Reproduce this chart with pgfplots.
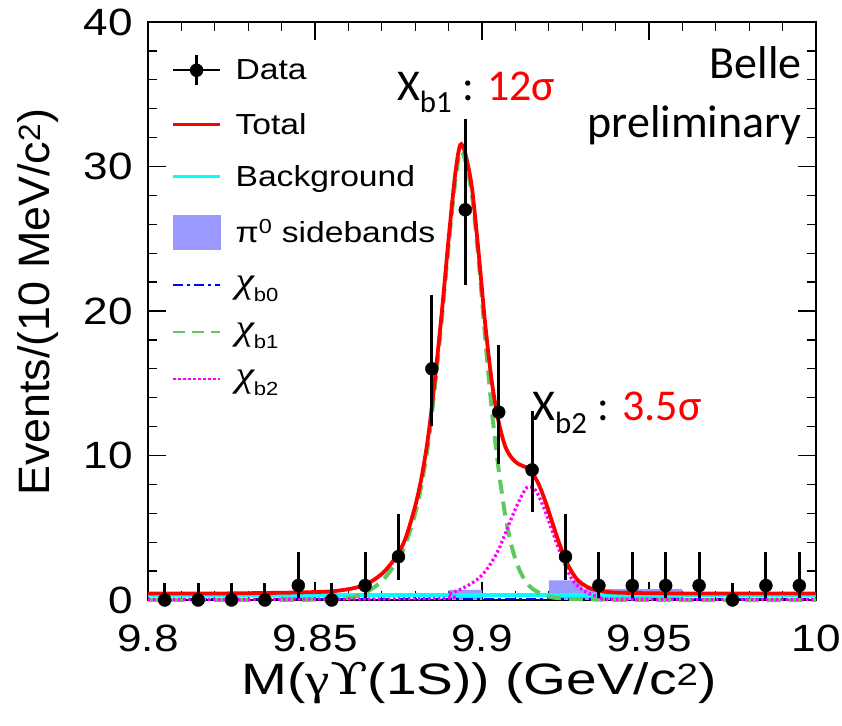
\documentclass[border=0pt]{standalone}
\usepackage{fontspec}
\setmainfont{Liberation Sans}
\newfontfamily\calibri{Carlito}
\newfontfamily\lserif{Liberation Serif}
\newfontfamily\dvserif{DejaVu Serif}
\usepackage{graphicx}
\usepackage{xcolor}
\usepackage{pgfplots}
\pgfplotsset{compat=1.18}

\definecolor{sbfill}{RGB}{153,153,255}
\definecolor{chigreen}{RGB}{95,200,95}
\definecolor{bgcyan}{RGB}{0,255,255}
\definecolor{mag}{RGB}{255,0,255}
\newcommand{\hs}[1]{\scalebox{1.16}[1]{#1}}
\newcommand{\chib}[1]{\hs{{\lserif\itshape\fontsize{36}{38}\selectfont χ}\raisebox{-9pt}{\fontsize{19}{20}\selectfont #1}}}

\begin{document}
\begin{tikzpicture}
\begin{axis}[
  scale only axis,
  width=668pt, height=578pt,
  xmin=9.8, xmax=10, ymin=0, ymax=40,
  clip=false,
  xtick={9.8,9.85,9.9,9.95,10},
  ytick={0,10,20,30,40},
  minor x tick num=4, minor y tick num=4,
  tick align=inside, tick pos=both,
  major tick length=18pt, minor tick length=9pt,
  every tick/.style={black, line width=1.3pt},
  axis line style={black, line width=1.6pt},
  tick label style={font=\fontsize{38}{40}\selectfont, inner sep=0pt},
  xticklabel={\hs{\pgfmathprintnumber[assume math mode=true]{\tick}}},
  yticklabel={\hs{\pgfmathprintnumber[assume math mode=true]{\tick}}},
  xticklabel shift=25pt, yticklabel shift=15pt,
  xlabel={\scalebox{1.25}[1]{M({\lserif γ}{\dvserif ϒ}(1S)) (GeV/c\textsuperscript{2})}},
  xlabel style={font=\fontsize{44}{46}\selectfont, at={(axis description cs:0.496,-0.144)}, anchor=center, inner sep=0pt},
  ylabel={\scalebox{1.02}[1]{Events/(10 MeV/c\textsuperscript{2})}},
  ylabel style={font=\fontsize{44}{46}\selectfont, at={(axis description cs:-0.165,0.515)}, anchor=center, inner sep=0pt},
  legend style={draw=none, fill=none, at={(rel axis cs:0.035,0.945)}, anchor=north west,
    row sep=25pt, font=\fontsize{29}{30}\selectfont, inner sep=0pt,
    /tikz/every odd column/.append style={column sep=12pt}},
  legend cell align=left,
]
% pi0 sidebands histogram
\addplot[fill=sbfill, draw=none, const plot, forget plot] coordinates {
 (9.80,0) (9.84,0.6) (9.85,0) (9.89,0.7) (9.90,0) (9.92,1.35) (9.93,0.75) (9.96,0) (10.0,0)
} \closedcycle;
% background
\addplot[bgcyan, line width=3.5pt, forget plot] coordinates {(9.80,0.35) (10.0,0.35)};
% chi_b0
\addplot[blue, line width=2.5pt, dash pattern=on 10pt off 4pt on 3pt off 4pt, forget plot] coordinates {(9.80,0.08) (10.0,0.08)};
% chi_b1
\addplot[chigreen, line width=4pt, dash pattern=on 14pt off 8pt, smooth, forget plot] coordinates {
 (9.80,0) (9.850,0.02) (9.860,0.15) (9.865,0.5) (9.870,1.3) (9.874,2.5) (9.877,3.8) (9.880,6.0)
 (9.882,8.1) (9.884,11.0) (9.886,15.0) (9.888,19.5) (9.890,24.5) (9.892,29.0) (9.8935,31.0)
 (9.895,30.4) (9.897,28.0) (9.899,23.5) (9.901,18.0) (9.903,13.0) (9.905,9.0) (9.907,5.8)
 (9.909,3.6) (9.911,2.2) (9.913,1.3) (9.915,0.8) (9.918,0.4) (9.922,0.15) (9.93,0.05) (9.95,0.0) (10.0,0.0)
};
% chi_b2
\addplot[mag, line width=3.2pt, dash pattern=on 2.5pt off 2.5pt, smooth, forget plot] coordinates {
 (9.80,0.05) (9.885,0.1) (9.890,0.4) (9.895,0.9) (9.899,1.5) (9.902,2.3) (9.905,3.5) (9.908,5.2)
 (9.911,6.8) (9.9135,7.8) (9.916,7.6) (9.9185,6.4) (9.921,4.8) (9.9235,3.2) (9.9265,1.6)
 (9.929,0.9) (9.932,0.45) (9.936,0.15) (9.94,0.05) (10.0,0.05)
};
% total
\addplot[red, line width=3.8pt, smooth, forget plot] coordinates {
 (9.800,0.45) (9.820,0.45) (9.840,0.5) (9.850,0.55) (9.855,0.6) (9.860,0.75) (9.865,1.05)
 (9.870,1.8) (9.874,2.9) (9.877,4.2) (9.880,6.5) (9.882,8.6) (9.884,11.5) (9.886,15.5)
 (9.888,20.0) (9.890,25.0) (9.892,29.5) (9.8935,31.5) (9.895,30.9) (9.897,28.5) (9.899,24.0)
 (9.901,19.0) (9.903,15.0) (9.905,12.3) (9.907,10.6) (9.909,9.8) (9.911,9.4) (9.913,9.2)
 (9.915,8.8) (9.917,8.0) (9.919,6.8) (9.921,5.4) (9.923,4.0) (9.925,2.8) (9.927,1.9)
 (9.929,1.3) (9.932,0.85) (9.936,0.6) (9.942,0.5) (9.96,0.45) (10.0,0.45)
};
% data
\addplot[black, only marks, mark=*, mark size=6.5pt, forget plot,
  error bars/.cd, y dir=both, y explicit, error mark=none,
  error bar style={black, line width=3pt}] coordinates {
 (9.805,0) += (0,1.15) -= (0,0)
 (9.815,0) += (0,1.15) -= (0,0)
 (9.825,0) += (0,1.15) -= (0,0)
 (9.835,0) += (0,1.15) -= (0,0)
 (9.845,1) += (0,2.30) -= (0,0.83)
 (9.855,0) += (0,1.15) -= (0,0)
 (9.865,1) += (0,2.30) -= (0,0.83)
 (9.875,3) += (0,2.92) -= (0,1.63)
 (9.885,16) += (0,5.10) -= (0,3.96)
 (9.895,27) += (0,6.26) -= (0,5.17)
 (9.905,13) += (0,4.67) -= (0,3.58)
 (9.915,9) += (0,4.11) -= (0,2.94)
 (9.925,3) += (0,2.92) -= (0,1.63)
 (9.935,1) += (0,2.30) -= (0,0.83)
 (9.945,1) += (0,2.30) -= (0,0.83)
 (9.955,1) += (0,2.30) -= (0,0.83)
 (9.965,1) += (0,2.30) -= (0,0.83)
 (9.975,0) += (0,1.15) -= (0,0)
 (9.985,1) += (0,2.30) -= (0,0.83)
 (9.995,1) += (0,2.30) -= (0,0.83)
};
% legend
\addlegendimage{legend image code/.code={
  \draw[black, line width=2.5pt] (0pt,0pt) -- (47pt,0pt);
  \draw[black, line width=2.5pt] (23.5pt,-15pt) -- (23.5pt,15pt);
  \fill[black] (23.5pt,0pt) circle (6.5pt);}}
\addlegendentry{\hs{Data}}
\addlegendimage{legend image code/.code={\draw[red, line width=3pt] (0pt,0pt) -- (47pt,0pt);}}
\addlegendentry{\hs{Total}}
\addlegendimage{legend image code/.code={\draw[bgcyan, line width=3pt] (0pt,0pt) -- (47pt,0pt);}}
\addlegendentry{\hs{Background}}
\addlegendimage{legend image code/.code={\fill[sbfill] (0pt,-17pt) rectangle (47pt,17pt);}}
\addlegendentry{\hs{π\textsuperscript{0} sidebands}}
\addlegendimage{legend image code/.code={\draw[blue, line width=2.5pt, dash pattern=on 10pt off 4pt on 3pt off 4pt] (0pt,0pt) -- (47pt,0pt);}}
\addlegendentry{\chib{b0}}
\addlegendimage{legend image code/.code={\draw[chigreen, line width=2.5pt, dash pattern=on 12pt off 7pt] (0pt,0pt) -- (47pt,0pt);}}
\addlegendentry{\chib{b1}}
\addlegendimage{legend image code/.code={\draw[mag, line width=2.5pt, dash pattern=on 2.5pt off 2.5pt] (0pt,0pt) -- (47pt,0pt);}}
\addlegendentry{\chib{b2}}
% annotations
\node[anchor=base west, inner sep=0pt, font=\calibri\fontsize{44}{46}\selectfont] at (axis cs:9.8745,34.6)
  {X\textsubscript{b1} : \textcolor{red}{12σ}};
\node[anchor=base west, inner sep=0pt, font=\calibri\fontsize{44}{46}\selectfont] at (axis cs:9.915,12.39)
  {X\textsubscript{b2} : \textcolor{red}{3.5σ}};
\node[anchor=base east, inner sep=0pt, font=\calibri\fontsize{46}{48}\selectfont] at (axis cs:9.9958,36.12) {Belle};
\node[anchor=base east, inner sep=0pt, font=\calibri\fontsize{46}{48}\selectfont] at (axis cs:9.9958,32.04) {preliminary};
\end{axis}
\pgfresetboundingbox
\path (current axis.south west) ++(-148pt,-126pt) rectangle ([shift={(26pt,22pt)}]current axis.north east);
\end{tikzpicture}
\end{document}
